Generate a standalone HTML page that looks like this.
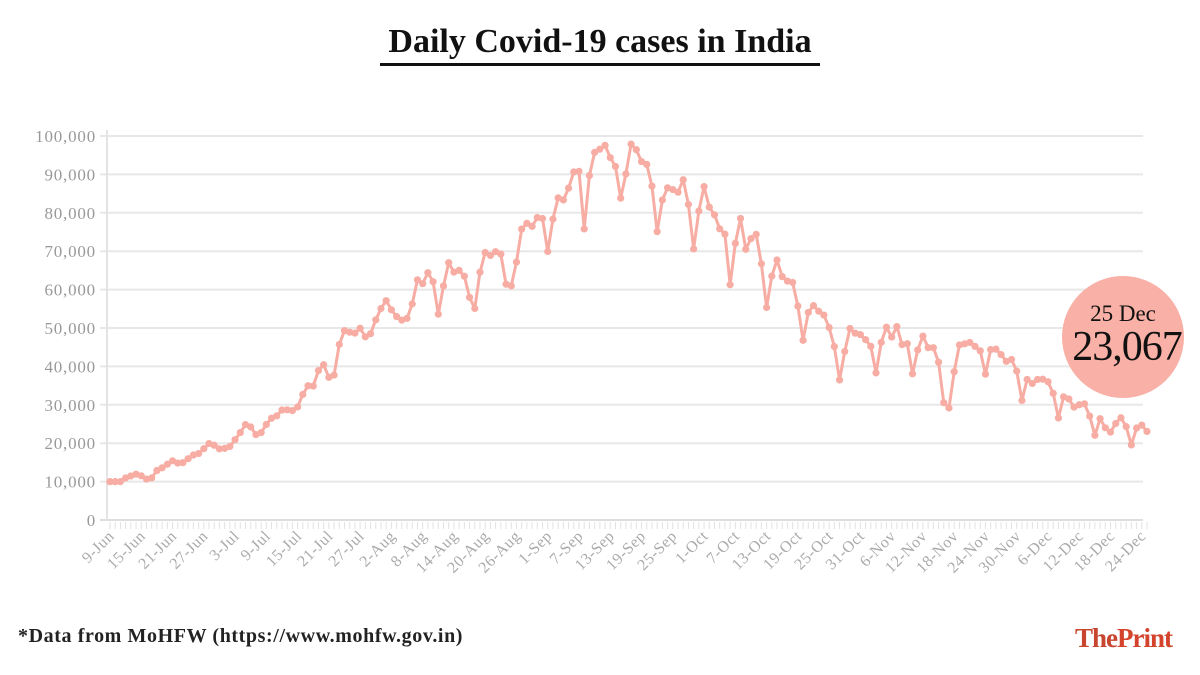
<!DOCTYPE html>
<html><head><meta charset="utf-8"><style>
body{margin:0;background:#fff;width:1200px;height:675px;overflow:hidden;font-family:"Liberation Serif",serif}
svg{display:block}
</style></head><body>
<svg width="1200" height="675">
<text x="600" y="52" text-anchor="middle" font-size="34" font-weight="bold" fill="#111">Daily Covid-19 cases in India</text>
<rect x="380" y="63" width="440" height="3" fill="#111"/>
<g id="grid"></g>
<g id="xax"></g>
<polyline id="line" fill="none" stroke="#f7ada3" stroke-width="3" stroke-linejoin="round"/>
<g id="pts"></g>
<circle cx="1123" cy="337" r="61" fill="#f9b0a6"/>
<text x="1123" y="321" text-anchor="middle" font-size="23" fill="#111">25 Dec</text>
<text x="1127" y="360" text-anchor="middle" font-size="42" fill="#111" letter-spacing="-1">23,067</text>
<text x="18" y="642" font-size="20" font-weight="bold" fill="#222" letter-spacing="0.6">*Data from MoHFW (https://www.mohfw.gov.in)</text>
<text x="1172" y="647" text-anchor="end" font-size="27" font-weight="bold" fill="#c8452f" letter-spacing="-1">The<tspan fill="#d4442c">Print</tspan></text>
</svg>
<script>
const startDate = [2020, 5, 9];
const cases = [9987,9985,9996,10956,11458,11929,11502,10667,10974,12881,13586,14516,15413,14821,14933,15968,16922,17296,18552,19906,19459,18522,
18653,19148,20903,22771,24850,24248,22252,22752,24879,26506,27114,28637,28701,28498,29429,32695,34956,34884,38902,40425,37148,37724,45720,49310,48916,48661,49931,47704,48513,52123,55078,
57118,54735,52972,52050,52509,56282,62538,61537,64399,62064,53601,60963,66999,64553,65002,63490,57982,55079,64531,69652,68898,69878,69239,61408,60975,67151,75760,77266,76472,78761,78512,
69921,78357,83883,83341,86432,90632,90802,75809,89706,95735,96551,97570,94372,92071,83809,90123,97894,96424,93337,92605,86961,75083,83347,86508,86052,85362,88600,82170,70589,80472,
86821,81484,79476,75829,74442,61267,72049,78524,70496,73272,74383,66732,55342,63509,67708,63371,62212,61871,55722,46790,54044,55839,54366,53370,50129,45149,36470,43893,49881,48648,48268,
46963,45231,38310,46253,50210,47638,50357,45674,45903,38073,44281,47905,44879,44878,41100,30548,29163,38617,45576,45882,46232,45209,44059,37975,44376,44489,43082,41322,41810,38772,
31118,36604,35551,36595,36652,36011,32981,26567,32080,31522,29398,30006,30254,27071,22065,26382,24010,22889,25152,26624,24337,19556,23950,24712,23067];
const yTicks = [0,10000,20000,30000,40000,50000,60000,70000,80000,90000,100000];
const months = ["Jan","Feb","Mar","Apr","May","Jun","Jul","Aug","Sep","Oct","Nov","Dec"];
const NS="http://www.w3.org/2000/svg";
const X0=110, X1=1147, Y0=520, Y1=136;
const xs=i=>X0+(X1-X0)*i/(cases.length-1);
const ys=v=>Y0-(Y0-Y1)*v/100000;
const grid=document.getElementById('grid');
yTicks.forEach(t=>{
  const l=document.createElementNS(NS,'line');
  
  
  l.setAttribute('x1',100);l.setAttribute('x2',1143);l.setAttribute('y1',ys(t));l.setAttribute('y2',ys(t));
  l.setAttribute('stroke',t===0?'#ddd':'#e8e8e8');l.setAttribute('stroke-width',2);
  grid.appendChild(l);
  const tx=document.createElementNS(NS,'text');
  
  
  tx.setAttribute('x',96);tx.setAttribute('y',ys(t)+6);tx.setAttribute('text-anchor','end');
  tx.setAttribute('font-size',17);tx.setAttribute('fill','#999');tx.setAttribute('letter-spacing','0.8');
  tx.textContent=t.toLocaleString('en-US');grid.appendChild(tx);
});
const ax=document.getElementById('xax');
const vl=document.createElementNS(NS,'line');


vl.setAttribute('x1',107);vl.setAttribute('x2',107);vl.setAttribute('y1',130);vl.setAttribute('y2',521);vl.setAttribute('stroke','#e4e4e4');vl.setAttribute('stroke-width',2);
ax.appendChild(vl);
cases.forEach((v,i)=>{
  const x=xs(i);
  const tk=document.createElementNS(NS,'line');
  
  
  tk.setAttribute('x1',x);tk.setAttribute('x2',x);tk.setAttribute('y1',522);tk.setAttribute('y2',529);tk.setAttribute('stroke','#e2e2e2');
  ax.appendChild(tk);
  if(i%6===0){
    const d=new Date(startDate[0],startDate[1],startDate[2]+i);
    const tx=document.createElementNS(NS,'text');
    
    
    tx.setAttribute('text-anchor','end');tx.setAttribute('font-size',16);tx.setAttribute('fill','#aaa');tx.setAttribute('letter-spacing','0.5');
    tx.setAttribute('transform',`translate(${x+5},${537}) rotate(-45)`);
    tx.textContent=d.getDate()+'-'+months[d.getMonth()];
    ax.appendChild(tx);
  }
});
document.getElementById('line').setAttribute('points',cases.map((v,i)=>xs(i)+','+ys(v)).join(' '));
const pts=document.getElementById('pts');
cases.forEach((v,i)=>{
  const c=document.createElementNS(NS,'circle');
  
  
  c.setAttribute('cx',xs(i));c.setAttribute('cy',ys(v));c.setAttribute('r',3.6);c.setAttribute('fill','#f7ada3');
  pts.appendChild(c);
});
</script>
</body></html>
